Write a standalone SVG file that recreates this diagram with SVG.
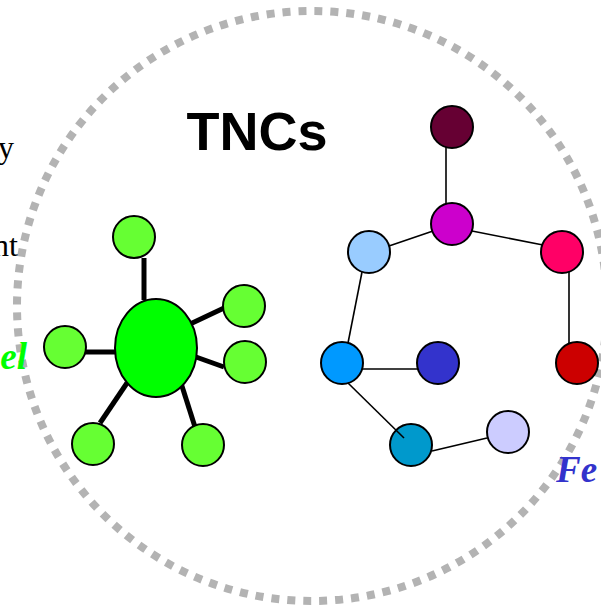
<svg xmlns="http://www.w3.org/2000/svg" width="601" height="608" viewBox="0 0 601 608">
  <style>
    .ring { fill: none; stroke: #b3b3b3; stroke-width: 8; stroke-dasharray: 8 8; }
    .spoke { stroke: #000; stroke-width: 5; }
    .link { stroke: #000; stroke-width: 1.6; }
    .node { stroke: #000; stroke-width: 2; }
    .leaf { fill: #66ff33; }
    .title { font-family: "Liberation Sans", Arial, sans-serif; font-weight: bold; font-size: 54px; fill: #000; }
    .side { font-family: "Liberation Serif", "Times New Roman", serif; font-size: 32px; fill: #000; }
    .label { font-family: "Liberation Serif", "Times New Roman", serif; font-weight: bold; font-style: italic; font-size: 37px; }
  </style>
  <rect width="601" height="608" fill="#fff"/>

  <!-- dotted boundary -->
  <circle class="ring" cx="312" cy="306" r="295"/>

  <!-- partially visible side texts -->
  <text class="side" x="14" y="158" text-anchor="end">y</text>
  <text class="side" x="18" y="256" text-anchor="end">nt</text>
  <text class="label" x="27" y="369" text-anchor="end" fill="#00ff00">el</text>
  <text class="label" x="556" y="482" fill="#3333cc" font-size="38">Fe</text>

  <text class="title" x="257" y="150" text-anchor="middle">TNCs</text>

  <!-- connectors -->
  <g id="connectors">
    <line class="spoke" x1="144" y1="258" x2="144" y2="300"/>
    <line class="spoke" x1="188" y1="325" x2="224" y2="308"/>
    <line class="spoke" x1="196" y1="357" x2="224" y2="367"/>
    <line class="spoke" x1="84" y1="352" x2="116" y2="352"/>
    <line class="spoke" x1="100" y1="423" x2="127" y2="383"/>
    <line class="spoke" x1="195" y1="427" x2="181" y2="383"/>

    <line class="link" x1="446" y1="147" x2="446" y2="205"/>
    <line class="link" x1="433" y1="231" x2="389" y2="246"/>
    <line class="link" x1="472" y1="231" x2="543" y2="245"/>
    <line class="link" x1="569" y1="272" x2="569" y2="343"/>
    <line class="link" x1="362" y1="272" x2="348" y2="343"/>
    <line class="link" x1="362" y1="369" x2="419" y2="369"/>
    <line class="link" x1="432" y1="451" x2="487" y2="438"/>
  </g>

  <!-- hub cluster -->
  <g id="hub"><ellipse class="node" cx="156" cy="348" rx="41" ry="49" fill="#00ff00"/></g>
  <g id="leaf-top"><circle class="node leaf" cx="134" cy="237" r="21"/></g>
  <g id="leaf-right-upper"><circle class="node leaf" cx="244" cy="306" r="21"/></g>
  <g id="leaf-right-lower"><circle class="node leaf" cx="245" cy="362" r="21"/></g>
  <g id="leaf-left"><circle class="node leaf" cx="65" cy="347" r="21"/></g>
  <g id="leaf-bottom-left"><circle class="node leaf" cx="93" cy="444" r="21"/></g>
  <g id="leaf-bottom-right"><circle class="node leaf" cx="203" cy="445" r="21"/></g>

  <!-- chain cluster -->
  <g id="n-maroon"><circle class="node" cx="452" cy="127" r="21" fill="#660033"/></g>
  <g id="n-magenta"><circle class="node" cx="452" cy="224" r="21" fill="#cc00cc"/></g>
  <g id="n-lightblue"><circle class="node" cx="369" cy="252" r="21" fill="#99ccff"/></g>
  <g id="n-pink"><circle class="node" cx="562" cy="252" r="21" fill="#ff0066"/></g>
  <g id="n-blue"><circle class="node" cx="342" cy="363" r="21" fill="#0099ff"/></g>
  <g id="n-darkblue"><circle class="node" cx="438" cy="363" r="21" fill="#3333cc"/></g>
  <g id="n-red"><circle class="node" cx="577" cy="363" r="21" fill="#cc0000"/></g>
  <g id="n-teal"><circle class="node" cx="411" cy="445" r="21" fill="#0099cc"/></g>
  <g id="n-lavender"><circle class="node" cx="508" cy="432" r="21" fill="#ccccff"/></g>

  <!-- this link is drawn over the teal node -->
  <line class="link" x1="348" y1="383" x2="404" y2="438"/>
</svg>
